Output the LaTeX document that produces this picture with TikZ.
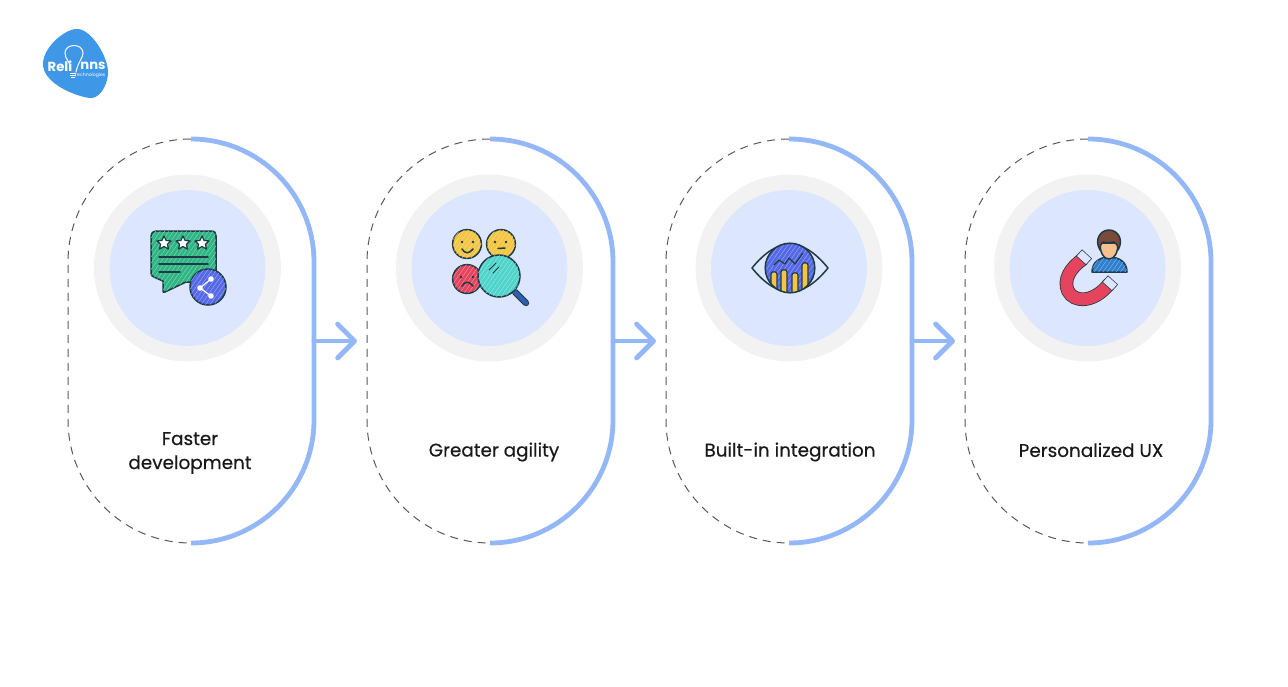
\documentclass[tikz,border=0pt]{standalone}
\usepackage{fontspec}
\setmainfont{Poppins}
\usetikzlibrary{arrows.meta,positioning,patterns.meta}
\definecolor{lineBlue}{HTML}{94B8F7}
\definecolor{discBlue}{HTML}{DCE7FF}
\definecolor{ringGrey}{HTML}{F2F2F2}
\definecolor{logoBlue}{HTML}{3F97E8}
\definecolor{inkDark}{HTML}{1E3A45}
\definecolor{iconGreen}{HTML}{2FB584}
\definecolor{iconBlue}{HTML}{5468E8}
\definecolor{iconYellow}{HTML}{F4C542}
\definecolor{iconRed}{HTML}{E5445F}
\definecolor{iconTeal}{HTML}{4FD4CC}
\definecolor{iconNavy}{HTML}{2F5FB0}
\definecolor{iconSkin}{HTML}{F6C08F}
\definecolor{iconHair}{HTML}{7A4A3A}
\definecolor{iconShirt}{HTML}{2F7FD0}
\begin{document}
\begin{tikzpicture}[x=.5pt,y=-.5pt,>=stealth,
	track/.style={minimum width=123pt,minimum height=202pt,inner sep=0pt,outer sep=0pt},
	ring/.style={circle,fill=ringGrey,minimum size=93.5pt,inner sep=0pt},
	disc/.style={circle,fill=discBlue,minimum size=78pt,inner sep=0pt},
	half/.style={lineBlue,line width=2.4pt},
	open/.style={black!65,line width=.5pt,dash pattern=on 4pt off 3pt},
	flow/.style={lineBlue,line width=2.4pt,line cap=round,shorten >=5pt,-{Straight Barb[length=8.5pt,width=17pt,round]}},
	title/.style={align=center,font=\fontsize{9.2pt}{12pt}\selectfont\addfontfeature{FakeBold=.35},text=black!90},
	brand/.style={text=white,font=\bfseries\fontsize{6.6pt}{7pt}\selectfont,inner sep=0pt},
	ink/.style={draw=inkDark,line width=.75pt,line join=round,line cap=round},
	hatch/.style={postaction={pattern={Lines[angle=55,distance=1.8pt,line width=.2pt]},pattern color=white!45!#1}}]
	\useasboundingbox (0,0) rectangle (1288,686);

	\node[track] (tA) at (191,341) {};
	\node[track] (tB) [right=26.5pt of tA] {};
	\node[track] (tC) [right=26.5pt of tB] {};
	\node[track] (tD) [right=26.5pt of tC] {};

	\foreach \t in {tA,tB,tC,tD} {
		\draw[open] (\t.north) arc[start angle=90,end angle=180,radius=61.5pt] -- ++(0,158)
			arc[start angle=180,end angle=270,radius=61.5pt];
		\draw[half] (\t.north) arc[start angle=90,end angle=0,radius=61.5pt] -- ++(0,158)
			arc[start angle=0,end angle=-90,radius=61.5pt];
	}

	\foreach \x/\n in {187.5/A,489.5/B,789/C,1087.5/D} {
		\node[ring] (r\n) at (\x,268) {};
		\node[disc] (d\n) at (r\n) {};
	}

	\draw[flow] (tA.east) -- (tB.west);
	\draw[flow] (tB.east) -- (tC.west);
	\draw[flow] (tC.east) -- (tD.west);

	\node[title] (lA) at (190,453) {Faster\\development};
	\node[title] (lB) at (494,452) {Greater agility};
	\node[title] (lC) at (790,452) {Built-in integration};
	\node[title] (lD) at (1091,450) {Personalized UX};

	% logo
	\fill[logoBlue] (43,63) .. controls (44,46) and (66,28) .. (78,29)
		.. controls (92,30) and (109,58) .. (108,74)
		.. controls (107,88) and (98,99) .. (90,98)
		.. controls (78,97) and (42,84) .. (43,63) -- cycle;
	\draw[white,line width=.5pt] (70,68) .. controls (70,60) and (65,60) .. (65,53)
		.. controls (65,43) and (83,43) .. (83,53) .. controls (83,58) and (78,62) .. (76,72);
	\draw[white,line width=.5pt] (70,73) -- (76,73) (70,75) -- (76,75) (71,77) -- (75,77);
	\node[brand] (logoA) at (60,66) {Reli};
	\node[brand] (logoB) at (93,66) {nns};
	\node[text=white,font=\fontsize{2.3pt}{3pt}\selectfont,inner sep=0pt] (logoC) at (90,75) {Technologies};

	% chat icon
	\path[ink,fill=iconGreen,hatch=iconGreen] (156,231) -- (211,231) .. controls (215,231) and (216,233) .. (216,236)
		-- (216,277) .. controls (216,280) and (214,282) .. (211,282) -- (186,282) -- (165,292)
		.. controls (163,293) and (163,292) .. (163,290) -- (163,281) -- (156,278)
		.. controls (153,277) and (151,276) .. (151,272) -- (151,236) .. controls (151,233) and (153,231) .. (156,231) -- cycle;
	\foreach \x in {164,183,202}
		\draw[ink,fill=white,line width=.6pt] (\x,236) -- ++(2.1,4.5) -- ++(5,.4) -- ++(-3.7,3.3) -- ++(1.1,4.9)
			-- ++(-4.5,-2.6) -- ++(-4.5,2.6) -- ++(1.1,-4.9) -- ++(-3.7,-3.3) -- ++(5,-.4) -- cycle;
	\draw[ink] (159,257) -- (208,257) (159,264) -- (208,264) (159,272) -- (180,272);
	\path[ink,fill=iconBlue,hatch=iconBlue] (208,287) circle[radius=9pt];
	\draw[white,line width=.6pt] (211,279) -- (200,288) -- (211,296);
	\fill[white] (211,279) circle[radius=1.4pt] (200,288) circle[radius=1.4pt] (211,296) circle[radius=1.4pt];

	% faces icon
	\path[ink,fill=iconYellow,hatch=iconYellow] (467,244) circle[radius=7.2pt];
	\path[ink,fill=iconYellow,hatch=iconYellow] (501,244) circle[radius=7.2pt];
	\path[ink,fill=iconRed,hatch=iconRed] (467,279) circle[radius=7.2pt];
	\fill[inkDark] (462,242) circle[radius=.7pt] (473,242) circle[radius=.7pt]
		(495,242) circle[radius=.7pt] (506,242) circle[radius=.7pt]
		(461,277) circle[radius=.7pt] (473,277) circle[radius=.7pt];
	\draw[ink] (462,249) .. controls (465,254) and (469,254) .. (473,249);
	\draw[ink] (498,248.5) -- (505,248);
	\draw[ink] (462,286) .. controls (465,281) and (469,281) .. (473,286);
	\draw[inkDark,line width=3.2pt,line cap=round] (515,292) -- (526,303);
	\draw[iconNavy,line width=2.2pt,line cap=round] (515,292) -- (526,303);
	\path[ink,fill=iconTeal,hatch=iconTeal] (499,276) circle[radius=10.5pt];
	\draw[ink,line width=.5pt] (489,270) -- (496,263) (493,273) -- (499,267);

	% eye icon
	\draw[ink,fill=discBlue] (752,268) .. controls (765,252) and (778,244) .. (790,244)
		.. controls (802,244) and (815,252) .. (828,268)
		.. controls (815,284) and (802,292) .. (790,292)
		.. controls (778,292) and (765,284) .. (752,268) -- cycle;
	\path[fill=iconBlue,hatch=iconBlue] (790,268) circle[radius=12.4pt];
	\begin{scope}
		\clip (790,268) circle[radius=12.4pt];
		\foreach \x/\y in {774/272,784/270,795/273,805/263}
			\draw[inkDark,fill=iconYellow,line width=.6pt] (\x-3,\y+2) -- (\x-3,295) -- (\x+3,295) -- (\x+3,\y+2)
				.. controls (\x+3,\y-1) and (\x-3,\y-1) .. (\x-3,\y+2) -- cycle;
	\end{scope}
	\draw[ink] (790,268) circle[radius=12.4pt];
	\draw[ink,line width=.6pt] (774,265) -- (779,260) -- (785,264) -- (789,258) -- (795,264) -- (803,253);

	% magnet icon
	\draw[inkDark,line width=6.8pt] (1083,259) .. controls (1070,268) and (1063,280) .. (1068,291)
		.. controls (1074,303) and (1094,303) .. (1109,284);
	\path[draw=iconRed,line width=6pt] (1083,259) .. controls (1070,268) and (1063,280) .. (1068,291)
		.. controls (1074,303) and (1094,303) .. (1109,284);
	\draw[inkDark,line width=6.8pt] (1081,260.5) -- (1087,254);
	\draw[discBlue,line width=6pt] (1081.5,260) -- (1086.5,254.5);
	\draw[inkDark,line width=6.8pt] (1107,286.5) -- (1113,280);
	\draw[discBlue,line width=6pt] (1107.5,286) -- (1112.5,280.5);

	% user icon
	\path[ink,fill=iconShirt,hatch=iconShirt] (1092,272) .. controls (1092,262) and (1100,257) .. (1109,257)
		.. controls (1119,257) and (1127,262) .. (1127,272) -- cycle;
	\path[ink,fill=iconSkin] (1109,259) .. controls (1103,259) and (1100,252) .. (1100,243)
		-- (1118,243) .. controls (1118,252) and (1115,259) .. (1109,259) -- cycle;
	\path[ink,fill=iconHair] (1100,250) .. controls (1094,240) and (1100,230) .. (1109,230)
		.. controls (1118,230) and (1124,240) .. (1118,250) .. controls (1118,245) and (1116,243) .. (1114,242)
		.. controls (1110,243) and (1105,243) .. (1103,242) .. controls (1101,243) and (1100,246) .. (1100,250) -- cycle;
\end{tikzpicture}
\end{document}
